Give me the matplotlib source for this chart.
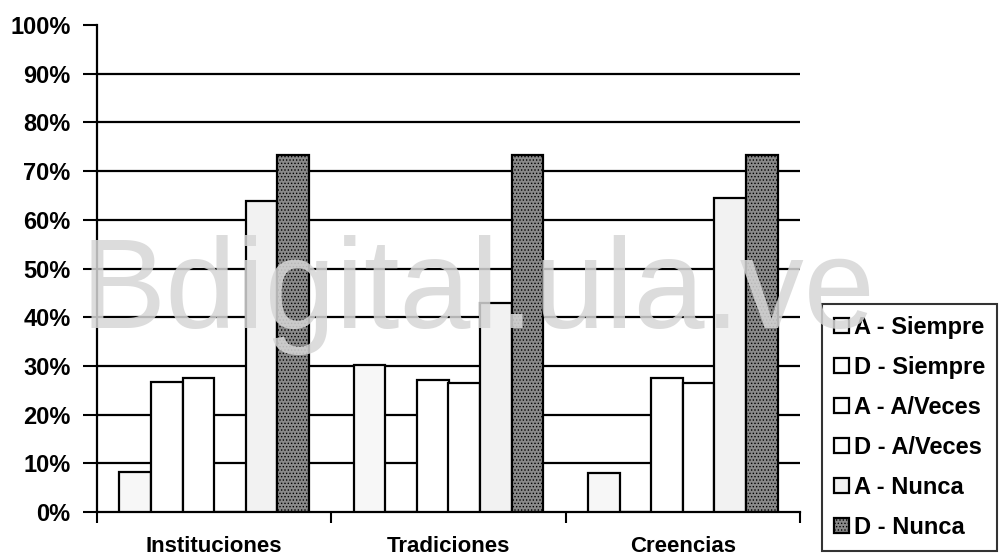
import numpy as np
import matplotlib
matplotlib.use("Agg")
import matplotlib.pyplot as plt

plt.rcParams['font.family'] = ['Liberation Sans', 'DejaVu Sans']
plt.rcParams['hatch.linewidth'] = 0.6

# ---- datos ----
categorias = ["Instituciones", "Tradiciones", "Creencias"]
series = ["A - Siempre", "D - Siempre", "A - A/Veces", "D - A/Veces", "A - Nunca", "D - Nunca"]
a_siempre = [8.3, 30.2, 8.0]
d_siempre = [26.6, 0.0, 0.0]
a_aveces = [27.6, 27.1, 27.5]
d_aveces = [0.0, 26.5, 26.5]
a_nunca = [63.9, 42.9, 64.5]
d_nunca = [73.3, 73.3, 73.3]
valores = [a_siempre, d_siempre, a_aveces, d_aveces, a_nunca, d_nunca]

colores = ["#f7f7f7", "white", "white", "white", "#f2f2f2", "#8a8a8a"]
tramas = [None, None, None, None, None, "....."]

fig = plt.figure(figsize=(10.06, 5.6), dpi=100)
ax = fig.add_axes([97 / 1006, 48 / 560, 703 / 1006, 487 / 560])

ancho = 0.135
x = np.arange(len(categorias)) + 0.5
for i, (nombre, vals) in enumerate(zip(series, valores)):
    pos = x + (i - 2.5) * ancho
    ax.bar(pos, vals, width=ancho, color=colores[i], edgecolor="black",
           linewidth=1.6, hatch=tramas[i], label=nombre, zorder=3)

ax.set_xlim(0, 3)
ax.set_ylim(0, 100)
ax.set_yticks(np.arange(0, 101, 10))
ax.set_yticklabels([f"{v}%" for v in range(0, 101, 10)], fontsize=17, fontweight="bold")
for v in range(10, 100, 10):
    ax.axhline(v, color="black", linewidth=1.6, zorder=1)

# ticks del eje x en los limites de categoria, etiquetas centradas
ax.set_xticks([0, 1, 2, 3])
ax.set_xticklabels([])
ax.set_xticks(x, minor=True)
ax.set_xticklabels(categorias, minor=True, fontsize=16, fontweight="bold")
ax.tick_params(axis="x", which="minor", length=0, pad=17)
ax.tick_params(axis="x", which="major", length=8, width=1.5, direction="out")
ax.tick_params(axis="y", length=10, width=1.5, direction="out", pad=9)

for lado in ["top", "right"]:
    ax.spines[lado].set_visible(False)
for lado in ["left", "bottom"]:
    ax.spines[lado].set_linewidth(1.6)

# marca de agua
fig.text(478 / 1006, 1 - 328 / 560, "Bdigital.ula.ve", fontsize=92, color="#d6d6d6",
         alpha=0.85, ha="center", va="baseline", zorder=10)

leg = fig.legend(loc="upper left", bbox_to_anchor=(822 / 1006, 1 - 304 / 560),
                 prop={"size": 17, "weight": "bold"}, frameon=True, fancybox=False,
                 edgecolor="black", handlelength=0.65, handleheight=0.65,
                 handletextpad=0.2, labelspacing=0.72, borderpad=0.5,
                 borderaxespad=0)
leg.get_frame().set_linewidth(1.5)

fig.savefig("out.png", dpi=100)
